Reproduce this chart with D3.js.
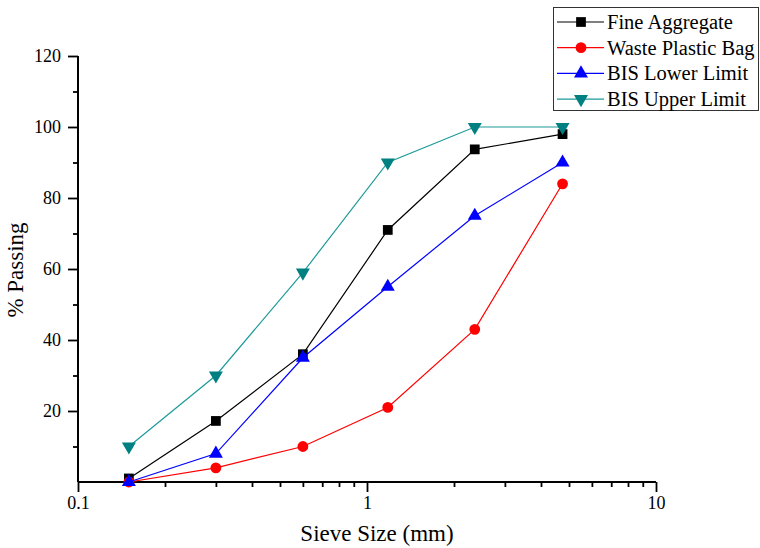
<!DOCTYPE html>
<html><head><meta charset="utf-8">
<script src="https://cdn.jsdelivr.net/npm/d3@7/dist/d3.min.js"></script>
<style>body{margin:0;background:#fff}svg{display:block}text{font-family:"Liberation Serif","Times New Roman",serif;fill:#000}</style>
</head><body><svg id="c" width="760" height="548"></svg>
<script>
const sieveSizes = [0.15, 0.3, 0.6, 1.18, 2.36, 4.75];
const fineAggregate = [1, 17.2, 36, 71, 93.7, 98];
const wastePlasticBag = [0, 4, 10, 21, 43, 84];
const bisLower = [0, 8, 35, 55, 75, 90];
const bisUpper = [10, 30, 59, 90, 100, 100];
const seriesNames = ["Fine Aggregate", "Waste Plastic Bag", "BIS Lower Limit", "BIS Upper Limit"];
const xTickLabels = ["0.1", "1", "10"];
const yTickLabels = [20, 40, 60, 80, 100, 120];

const series = [
  {name: seriesNames[0], values: fineAggregate, color: "#000000", line: "#000000", sym: d3.symbolSquare, size: 95},
  {name: seriesNames[1], values: wastePlasticBag, color: "#ff0000", line: "#ff0000", sym: d3.symbolCircle, size: 92},
  {name: seriesNames[2], values: bisLower, color: "#0000ff", line: "#0000ff", sym: d3.symbolTriangle, size: 85},
  {name: seriesNames[3], values: bisUpper, color: "#008080", line: "#1f9a9a", sym: d3.symbolTriangle, size: 85, flip: true}
];

const svg = d3.select("#c");
const x = d3.scaleLog().domain([0.1, 10]).range([78, 656]);
const y = d3.scaleLinear().domain([0, 120]).range([482, 56]);
const FONT = '"Liberation Serif","Times New Roman",serif';

// axes
const gx = svg.append("g").attr("transform", "translate(0,482)");
const majorX = xTickLabels.map(Number);
const minorX = [];
[0.1, 1].forEach(b => { for (let k = 2; k <= 9; k++) minorX.push(b * k); });
gx.append("g").call(d3.axisBottom(x).tickValues(minorX).tickSize(5).tickFormat(""))
  .call(g => g.select(".domain").remove());
gx.append("g").call(d3.axisBottom(x).tickValues(majorX).tickSize(10).tickPadding(4)
  .tickFormat((d, i) => xTickLabels[i]))
  .attr("font-family", FONT).attr("font-size", 18)
  .call(g => g.select(".domain").remove());
gx.append("line").attr("x1", 78).attr("x2", 656).attr("stroke", "#000").attr("stroke-width", 2);

const gy = svg.append("g").attr("transform", "translate(78,0)");
const minorY = d3.range(10, 120, 20);
gy.append("g").call(d3.axisLeft(y).tickValues(minorY).tickSize(5).tickFormat(""))
  .call(g => g.select(".domain").remove());
gy.append("g").call(d3.axisLeft(y).tickValues(yTickLabels).tickSize(10).tickPadding(7))
  .attr("font-family", FONT).attr("font-size", 18)
  .call(g => g.select(".domain").remove());
gy.append("line").attr("y1", 56).attr("y2", 482).attr("stroke", "#000").attr("stroke-width", 2);

svg.selectAll(".tick line").attr("stroke", "#000").attr("stroke-width", 1.8);
svg.selectAll(".tick text").attr("fill", "#000").style("font-family", FONT).style("font-size", "18px");

// titles
svg.append("text").attr("x", 377).attr("y", 541).attr("text-anchor", "middle").style("font-size", "23px").text("Sieve Size (mm)");
svg.append("text").attr("transform", "translate(23,270) rotate(-90)").attr("text-anchor", "middle").style("font-size", "23px").text("% Passing");

// series
const line = d3.line().x(d => x(d[0])).y(d => y(d[1]));
series.forEach(s => {
  const pts = sieveSizes.map((v, i) => [v, s.values[i]]);
  svg.append("path").datum(pts).attr("d", line).attr("fill", "none").attr("stroke", s.line).attr("stroke-width", 1.2);
  svg.append("g").selectAll("path").data(pts).join("path")
    .attr("d", d3.symbol().type(s.sym).size(s.size))
    .attr("transform", d => `translate(${x(d[0])},${y(d[1])})${s.flip ? " rotate(180)" : ""}`)
    .attr("fill", s.color);
});

// legend
const lg = svg.append("g");
lg.append("rect").attr("x", 553.5).attr("y", 7.5).attr("width", 205).attr("height", 103)
  .attr("fill", "#fff").attr("stroke", "#333").attr("stroke-width", 1);
series.forEach((s, i) => {
  const yy = 22 + i * 25.7;
  lg.append("line").attr("x1", 557).attr("x2", 604).attr("y1", yy).attr("y2", yy).attr("stroke", s.line).attr("stroke-width", 1.2);
  lg.append("path").attr("d", d3.symbol().type(s.sym).size(s.size))
    .attr("transform", `translate(581,${yy})${s.flip ? " rotate(180)" : ""}`).attr("fill", s.color);
  lg.append("text").attr("x", 607).attr("y", yy + 7).style("font-size", "20.5px").text(s.name);
});
</script></body></html>
